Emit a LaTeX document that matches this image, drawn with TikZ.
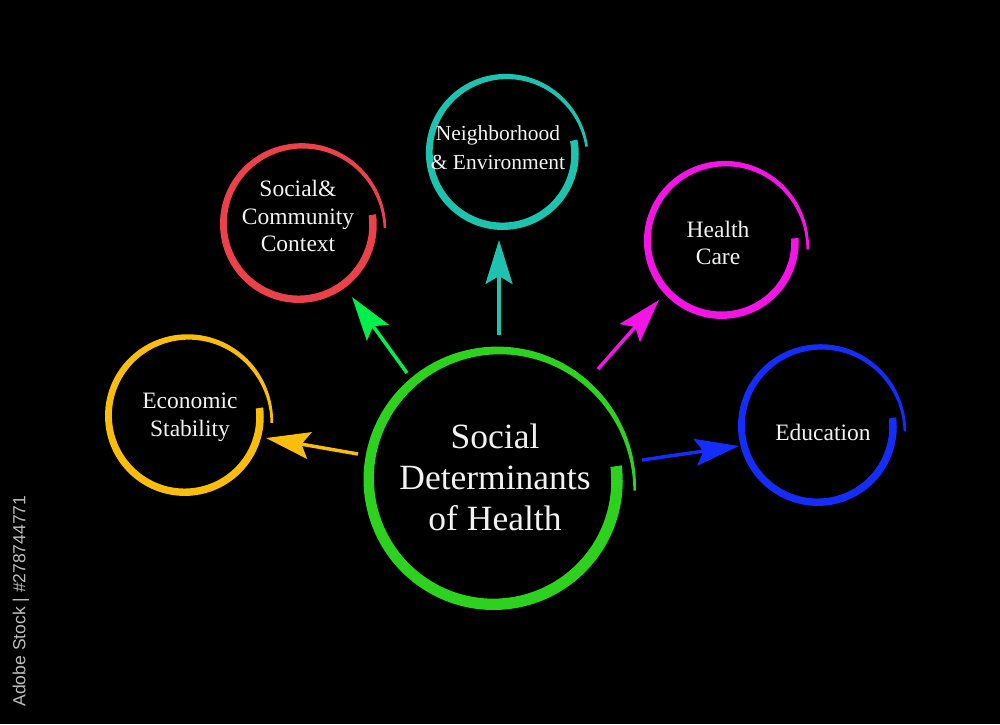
\documentclass[tikz,border=0pt]{standalone}
\usepackage{fontspec}
\setmainfont{Liberation Serif}
\newfontfamily\sansid{Liberation Sans}
\usetikzlibrary{arrows.meta}
\definecolor{cgreen}{RGB}{45,210,30}
\definecolor{agreen}{RGB}{0,240,75}
\definecolor{cred}{RGB}{235,65,75}
\definecolor{cteal}{RGB}{30,195,175}
\definecolor{cmag}{RGB}{245,20,230}
\definecolor{cblue}{RGB}{20,45,250}
\definecolor{cyel}{RGB}{250,190,10}
\definecolor{txt}{RGB}{242,242,242}
% #1,#2 centre; #3 colour; #4 r start; #5 r end; #6 start width; #7 start angle; #8 sweep
\newcommand\brushring[8]{%
  \begin{scope}[shift={(#1,#2)}]
  \fill[#3] plot[domain=0:1,samples=160] ({-(#7)+(#8)*\x}:{#4+(#5-#4)*\x^3+0.5*(2.6+(#6-2.6)*(1-\x^3))})
    -- plot[domain=1:0,samples=160] ({-(#7)+(#8)*\x}:{#4+(#5-#4)*\x^3-0.5*(2.6+(#6-2.6)*(1-\x^3))}) -- cycle;
  \end{scope}}
\begin{document}
\begin{tikzpicture}[x=1pt,y=-1pt,
  lbl/.style={text=txt,align=center,inner sep=0pt},
  big/.style={font=\fontsize{35.5}{41}\selectfont},
  mid/.style={font=\fontsize{23.5}{27.5}\selectfont},
  sml/.style={font=\fontsize{21.5}{29}\selectfont},
  conn/.style={line width=3.5pt,-{Stealth[length=44pt,width=27pt,inset=8pt]}}]
\fill[black] (0,0) rectangle (1000,724);
\useasboundingbox (0,0) rectangle (1000,724);
% rings
\brushring{494}{481}{cgreen}{123}{141}{11.5}{7}{371}
\brushring{299}{225}{cred}{74}{86}{7.5}{8}{370}
\brushring{503}{154}{cteal}{72}{84}{7.5}{11}{366}
\brushring{722}{242}{cmag}{73}{86}{7.5}{3}{368}
\brushring{818}{427}{cblue}{75}{87}{7.5}{7}{370}
\brushring{185}{417}{cyel}{75}{87}{7.5}{7}{371}
% labels
\node[lbl,big] (sdh) at (495,477) {Social\\Determinants\\of Health};
\node[lbl,mid] (scc) at (298,216) {Social\&\\Community\\Context};
\node[lbl,sml] (ne) at (498,148) {Neighborhood\\\& Environment};
\node[lbl,mid] (hc) at (718,243) {Health\\Care};
\node[lbl,mid] (ed) at (823,432) {Education};
\node[lbl,mid] (es) at (190,417) {Economic\\Stability};
% connector ends
\coordinate (ys) at (358,454); \coordinate (ye) at (266,438);
\coordinate (gs) at (407,373); \coordinate (ge) at (352,297);
\coordinate (ts) at (499,335); \coordinate (te) at (499,240);
\coordinate (ms) at (598,369); \coordinate (me) at (659,300);
\coordinate (bs) at (642,460); \coordinate (be) at (739,446);
\draw[conn,cyel] (ys) -- (ye);
\draw[conn,agreen] (gs) -- (ge);
\draw[conn,cteal] (ts) -- (te);
\draw[conn,cmag] (ms) -- (me);
\draw[conn,cblue] (bs) -- (be);
% stock id
\node[text={rgb,255:red,190;green,190;blue,190},font=\sansid\fontsize{17.5}{20}\selectfont,rotate=90,inner sep=0pt] (id) at (21,601) {Adobe Stock | \#278744771};
\end{tikzpicture}
\end{document}
